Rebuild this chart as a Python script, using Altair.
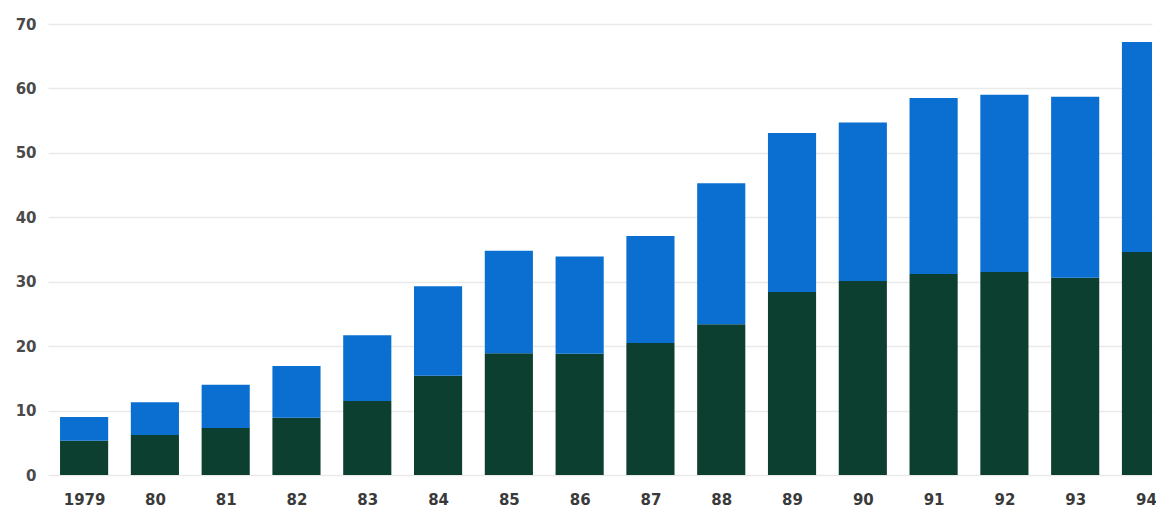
import altair as alt
import pandas as pd

years = [1979, 1980, 1981, 1982, 1983, 1984, 1985, 1986, 1987, 1988, 1989, 1990, 1991, 1992, 1993, 1994]
lower = [5.3, 6.2, 7.3, 8.9, 11.5, 15.4, 18.9, 18.8, 20.5, 23.4, 28.4, 30.1, 31.2, 31.5, 30.6, 34.6]
total = [9.0, 11.3, 14.0, 16.9, 21.7, 29.3, 34.8, 33.9, 37.1, 45.3, 53.1, 54.7, 58.5, 59.0, 58.7, 67.2]

rows = []
for y, lo, tot in zip(years, lower, total):
    rows.append({"year": y, "series": "lower", "y0": 0.0, "y1": lo})
    rows.append({"year": y, "series": "upper", "y0": lo, "y1": tot})
df = pd.DataFrame(rows)

half = 0.34
chart = alt.Chart(df).transform_calculate(
    x0=f"datum.year - {half}", x1=f"datum.year + {half}"
).mark_bar(clip=True).encode(
    x=alt.X("x0:Q",
            scale=alt.Scale(domain=[1978.49, 1994.085], nice=False, zero=False),
            axis=alt.Axis(values=years, title=None, grid=False, domain=False, ticks=False,
                          labelExpr="datum.value == 1979 ? '1979' : substring(toString(datum.value), 2)",
                          labelFont="DejaVu Sans", labelFontWeight="bold", labelFontSize=15,
                          labelColor="#3a3a3a", labelPadding=17, labelFlush=False)),
    x2="x1:Q",
    y=alt.Y("y0:Q",
            scale=alt.Scale(domain=[0, 70], nice=False),
            axis=alt.Axis(values=[0, 10, 20, 30, 40, 50, 60, 70], title=None, domain=False, ticks=False,
                          labelFont="DejaVu Sans", labelFontWeight="bold", labelFontSize=15,
                          labelColor="#4a4a4a", labelPadding=12,
                          gridColor="#e9e9e9", gridWidth=1.5)),
    y2="y1:Q",
    color=alt.Color("series:N", scale=alt.Scale(domain=["lower", "upper"], range=["#0c3f30", "#0a6fd0"]),
                    legend=None),
).properties(
    width=1104, height=451,
    autosize=alt.AutoSizeParams(type="none"),
    padding={"left": 40, "top": 16, "right": 4, "bottom": 35},
).configure_view(stroke=None)

chart.save("out.html", embed_options={"renderer": "svg", "actions": False})
